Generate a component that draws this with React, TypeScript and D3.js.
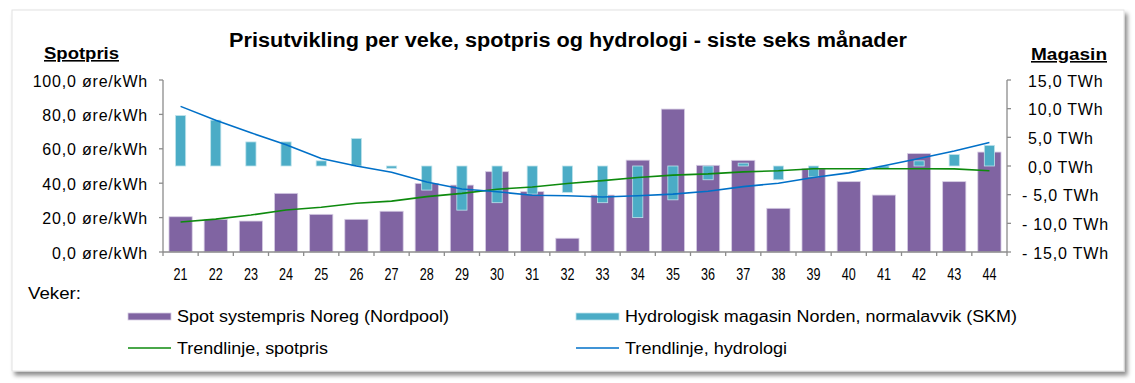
import React from "react";
import * as d3 from "d3";

const weeks = ["21","22","23","24","25","26","27","28","29","30","31","32","33","34","35","36","37","38","39","40","41","42","43","44"];
const spotPrice = [20.5, 19.0, 18.0, 34.1, 21.9, 19.0, 23.7, 39.9, 38.9, 46.7, 35.1, 8.0, 33.1, 53.4, 83.1, 50.4, 53.3, 25.4, 48.4, 40.9, 33.1, 57.2, 40.9, 58.1];
const hydroDev = [8.8, 8.0, 4.2, 4.2, 0.9, 4.8, -0.4, -4.2, -7.7, -6.4, -4.9, -4.6, -6.4, -9.0, -5.9, -2.4, 0.5, -2.4, -1.9, 0.0, -0.4, 0.9, 2.0, 3.6];
const trendSpot = [17.4, 19.1, 21.5, 24.4, 26.0, 28.3, 29.6, 32.2, 34.1, 36.5, 37.8, 39.8, 41.5, 43.3, 44.7, 45.4, 46.6, 47.2, 48.4, 48.4, 48.4, 48.4, 48.3, 47.2];
const trendHydro = [10.4, 8.0, 5.8, 3.7, 1.3, 0.0, -1.1, -2.8, -4.0, -4.5, -5.1, -5.2, -5.4, -5.2, -4.9, -4.4, -3.6, -3.0, -2.0, -1.2, 0.05, 1.3, 2.6, 4.1];
const leftTicks = [0, 20, 40, 60, 80, 100];
const rightTicks = [-15, -10, -5, 0, 5, 10, 15];

const title = "Prisutvikling per veke, spotpris og hydrologi - siste seks månader";
const legendItems = [
  "Spot systempris Noreg (Nordpool)",
  "Hydrologisk magasin Norden, normalavvik (SKM)",
  "Trendlinje, spotpris",
  "Trendlinje, hydrologi",
];

const FONT = "'Liberation Sans', Arial, sans-serif";
const PURPLE = "#8064A2";
const CYAN = "#4BACC6";
const GREEN = "#0E8A0E";
const BLUE = "#0070C8";
const AXIS = "#8C8C8C";

const fmtLeft = (v: number) => `${d3.format(".1f")(v).replace(".", ",")} øre/kWh`;
const fmtRight = (v: number) => (v < 0 ? `- ${d3.format(".1f")(-v).replace(".", ",")} TWh` : `${d3.format(".1f")(v).replace(".", ",")} TWh`);

export default function App() {
  const W = 1135, H = 383;
  const x0 = 163, x1 = 1007, yTop = 80, yBot = 252;
  const x = d3.scaleBand<string>().domain(weeks).range([x0, x1]).paddingInner(0).paddingOuter(0);
  const yL = d3.scaleLinear().domain([0, 100]).range([yBot, yTop]);
  const yR = d3.scaleLinear().domain([-15, 15]).range([yBot, yTop]);
  const bw = x.bandwidth();
  const cx = (w: string) => (x(w) as number) + bw / 2;

  const lineL = d3.line<number>().x((_, i) => cx(weeks[i])).y((d) => yL(d));
  const lineR = d3.line<number>().x((_, i) => cx(weeks[i])).y((d) => yR(d));

  const pw = bw * 0.66;
  const cw = bw * 0.29;

  return (
    <svg width={W} height={H} style={{ position: "absolute", left: 0, top: 0 }} fontFamily={FONT}>
      <defs>
        <filter id="sh" x="-5%" y="-5%" width="110%" height="115%">
          <feDropShadow dx="3" dy="4" stdDeviation="2" floodColor="#000" floodOpacity="0.45" />
        </filter>
      </defs>
      <rect x={0} y={0} width={W} height={H} fill="#fff" />
      <rect x={12} y={10} width={1112} height={361} fill="#fff" stroke="#e2e2e2" strokeWidth={1} filter="url(#sh)" />

      <text x={229} y={46.5} fontSize={20} fontWeight="bold" textLength={678} lengthAdjust="spacingAndGlyphs">{title}</text>
      <text x={44} y={59} fontSize={16} fontWeight="bold" textLength={75} lengthAdjust="spacingAndGlyphs" textDecoration="underline">Spotpris</text>
      <text x={1031} y={60} fontSize={16} fontWeight="bold" textLength={76} lengthAdjust="spacingAndGlyphs" textDecoration="underline">Magasin</text>

      {/* bars */}
      {weeks.map((w, i) => (
        <rect key={"p" + w} x={cx(w) - pw / 2} y={yL(spotPrice[i])} width={pw} height={yL(0) - yL(spotPrice[i])}
          fill={PURPLE} stroke="#d6cde4" strokeWidth={0.8} />
      ))}
      {weeks.map((w, i) => {
        const v = hydroDev[i];
        if (v === 0) return null;
        const ya = yR(Math.max(v, 0)), yb = yR(Math.min(v, 0));
        return <rect key={"c" + w} x={cx(w) - cw / 2} y={ya} width={cw} height={yb - ya}
          fill={CYAN} stroke="#bfe3ec" strokeWidth={0.8} />;
      })}

      <path d={lineL(trendSpot) || ""} fill="none" stroke={GREEN} strokeWidth={1.6} />
      <path d={lineR(trendHydro) || ""} fill="none" stroke={BLUE} strokeWidth={1.6} />

      {/* left axis */}
      <line x1={x0} x2={x0} y1={yTop} y2={yBot} stroke={AXIS} strokeWidth={1.3} />
      {leftTicks.map((t) => (
        <g key={"l" + t}>
          <line x1={x0 - 4} x2={x0} y1={yL(t)} y2={yL(t)} stroke={AXIS} strokeWidth={1.3} />
          <text x={148} y={yL(t) + 6.5} fontSize={16} textAnchor="end" letterSpacing={0.8}>{fmtLeft(t)}</text>
        </g>
      ))}
      {/* right axis */}
      <line x1={x1} x2={x1} y1={yTop} y2={yBot} stroke={AXIS} strokeWidth={1.3} />
      {rightTicks.map((t) => (
        <g key={"r" + t}>
          <line x1={x1} x2={x1 + 4} y1={yR(t)} y2={yR(t)} stroke={AXIS} strokeWidth={1.3} />
          <text x={t < 0 ? 1022 : 1028} y={yR(t) + 6.7} fontSize={16} letterSpacing={0.8}>{fmtRight(t)}</text>
        </g>
      ))}
      {/* bottom axis */}
      <line x1={x0} x2={x1} y1={yBot} y2={yBot} stroke={AXIS} strokeWidth={1.3} />
      {weeks.map((w) => (
        <line key={"t" + w} x1={x(w) as number} x2={x(w) as number} y1={yBot} y2={yBot + 4} stroke={AXIS} strokeWidth={1.3} />
      ))}
      <line x1={x1} x2={x1} y1={yBot} y2={yBot + 4} stroke={AXIS} strokeWidth={1.3} />
      {weeks.map((w) => (
        <text key={"x" + w} x={cx(w)} y={280} fontSize={16} textAnchor="middle" textLength={14} lengthAdjust="spacingAndGlyphs">{w}</text>
      ))}

      <text x={28} y={299} fontSize={16} textLength={53} lengthAdjust="spacingAndGlyphs">Veker:</text>

      {/* legend */}
      <rect x={128} y={313} width={43} height={7} fill={PURPLE} stroke="#d6cde4" strokeWidth={0.8} />
      <text x={177} y={322} fontSize={16} textLength={272} lengthAdjust="spacingAndGlyphs">{legendItems[0]}</text>
      <rect x={576} y={313} width={43} height={7} fill={CYAN} stroke="#bfe3ec" strokeWidth={0.8} />
      <text x={625} y={322} fontSize={16} textLength={392} lengthAdjust="spacingAndGlyphs">{legendItems[1]}</text>
      <line x1={128} x2={171} y1={348} y2={348} stroke={GREEN} strokeWidth={1.6} />
      <text x={177} y={354} fontSize={16} textLength={151} lengthAdjust="spacingAndGlyphs">{legendItems[2]}</text>
      <line x1={576} x2={619} y1={348} y2={348} stroke={BLUE} strokeWidth={1.6} />
      <text x={625} y={354} fontSize={16} textLength={162} lengthAdjust="spacingAndGlyphs">{legendItems[3]}</text>
    </svg>
  );
}
